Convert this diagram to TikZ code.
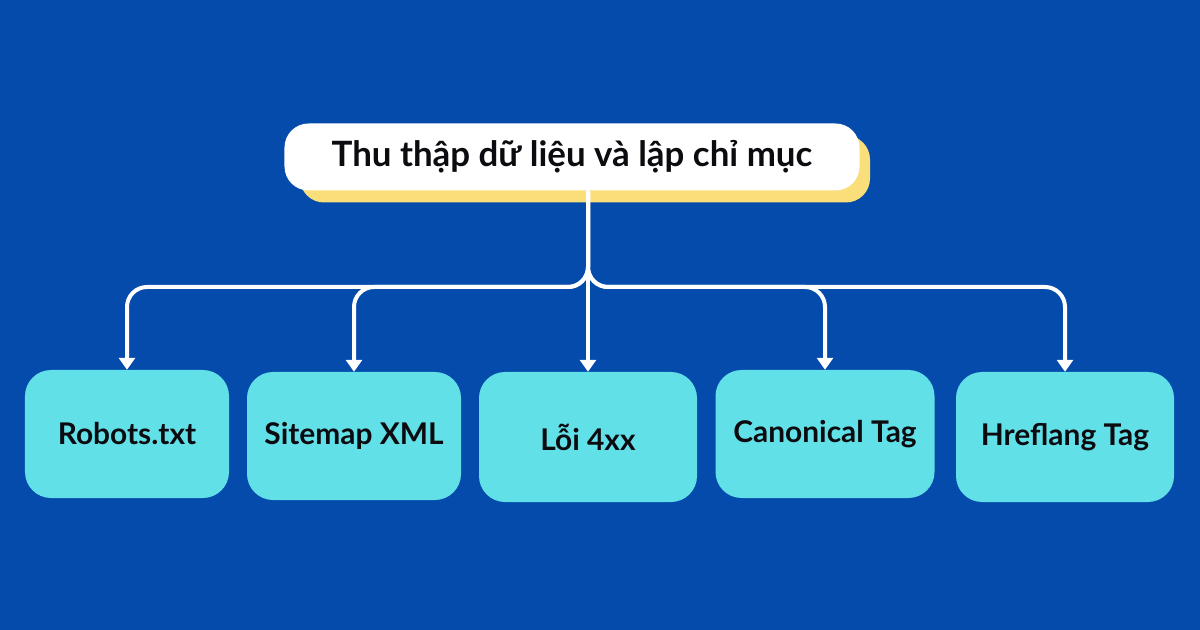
\documentclass[tikz,border=0pt]{standalone}
\usepackage{fontspec}
\setmainfont{Lato}
\usetikzlibrary{arrows.meta}
\definecolor{bgblue}{RGB}{4,75,171}
\definecolor{boxcyan}{RGB}{98,224,232}
\definecolor{shadowyellow}{RGB}{250,222,122}
\definecolor{txtblack}{RGB}{12,12,16}
\tikzset{
  childbox/.style={draw=none, fill=boxcyan, rounded corners=26bp, minimum width=#1, minimum height=128bp, inner sep=0pt,
    font=\fontsize{30}{36}\selectfont\bfseries, text=txtblack},
  childbox/.default=212bp,
  topbox/.style={fill=white, rounded corners=24bp, minimum width=575bp, minimum height=67bp, inner sep=0pt,
    font=\fontsize{35}{42}\selectfont\bfseries, text=txtblack},
  shadowbox/.style={fill=shadowyellow, rounded corners=24bp, minimum width=570bp, minimum height=67bp, inner sep=0pt},
  link/.style={draw=white, line width=4bp, rounded corners=20bp, -{Triangle[width=16bp,length=12bp]}}
}
\begin{document}
\begin{tikzpicture}[x=1bp,y=-1bp]
\fill[bgblue] (0,0) rectangle (1200,630);
\useasboundingbox (0,0) rectangle (1200,630);
\node[shadowbox] (shadow) at (585,169) {};
\node[topbox] (top) at (572,157) {Thu thập dữ liệu và lập chỉ mục};
\node[childbox=204bp] (robots) at (127,434) {Robots.txt};
\node[childbox=214bp] (sitemap) at (354,436) {Sitemap XML};
\node[childbox=218bp, minimum height=130bp] (loi) at (588,437) {Lỗi 4xx};
\node[childbox=219bp] (canon) at (825,434) {Canonical Tag};
\node[childbox=218bp, minimum height=130bp] (href) at (1065,437) {Hreflang Tag};
\coordinate (trunk) at (loi.north |- top.south);
\coordinate (bus) at (588,287);
\draw[link] (trunk) -- (trunk |- bus) -- (bus -| robots.north) -- (robots.north);
\draw[link] (trunk) -- (trunk |- bus) -- (bus -| sitemap.north) -- (sitemap.north);
\draw[link] (trunk) -- (loi.north);
\draw[link] (trunk) -- (trunk |- bus) -- (bus -| canon.north) -- (canon.north);
\draw[link] (trunk) -- (trunk |- bus) -- (bus -| href.north) -- (href.north);
\end{tikzpicture}
\end{document}
